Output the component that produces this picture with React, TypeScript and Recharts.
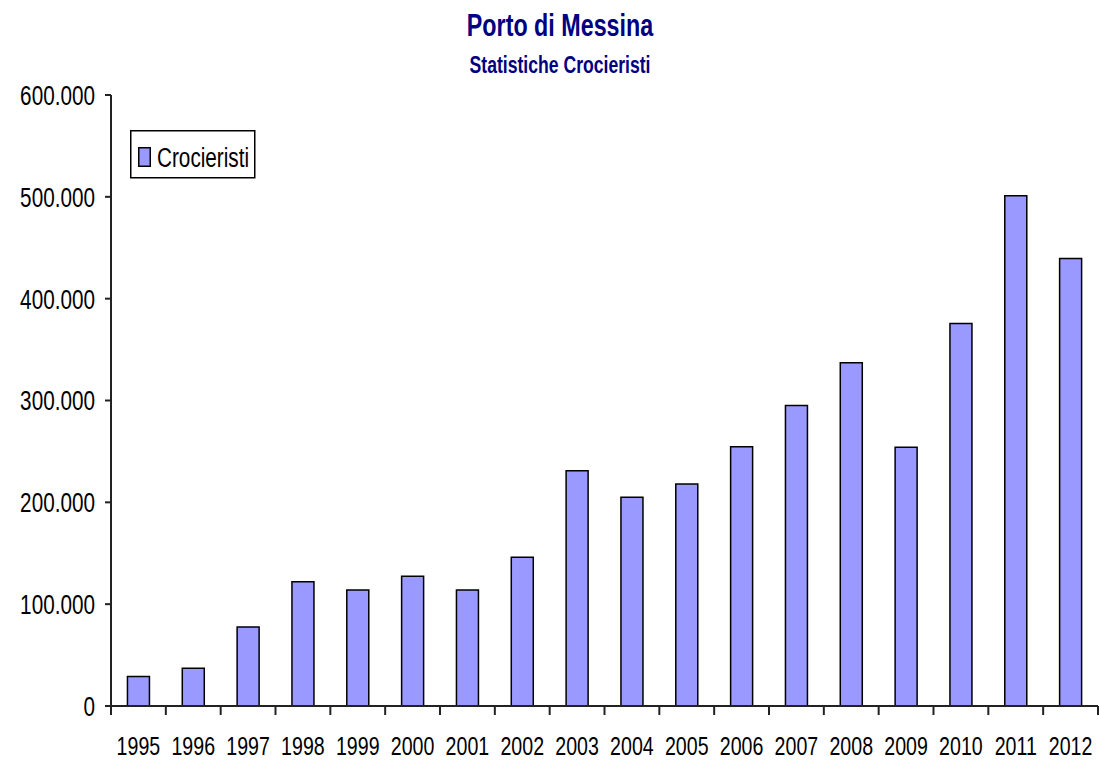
import { Bar, BarChart, Legend, XAxis, YAxis } from "recharts"

const years = [
  "1995", "1996", "1997", "1998", "1999", "2000", "2001", "2002", "2003",
  "2004", "2005", "2006", "2007", "2008", "2009", "2010", "2011", "2012",
]
const crocieristi = [
  29000, 37000, 77500, 122000, 114000, 127500, 114000, 146000, 231000,
  205000, 218000, 254500, 295000, 337000, 254000, 375500, 501000, 439500,
]
const yTicks = [0, 100000, 200000, 300000, 400000, 500000, 600000]

const data = years.map((name, i) => ({ name, crocieristi: crocieristi[i] }))

// the original text is Arial squeezed horizontally
const FONT = '"Liberation Sans", Arial, sans-serif'
const SQ = 0.74
const W = 1099
const H = 761
const LEFT = 111
const RIGHT = 1
const band = (W - LEFT - RIGHT) / years.length

const fmt = (v: number) => (v === 0 ? "0" : `${v / 1000}.000`)

function XTick(props: any) {
  const { x, y, payload, index } = props
  const half = band / 2
  return (
    <g>
      <line x1={x - half} x2={x - half} y1={y} y2={y + 9} stroke="#222" strokeWidth={2} />
      {index === years.length - 1 && (
        <line x1={x + half} x2={x + half} y1={y} y2={y + 9} stroke="#222" strokeWidth={2} />
      )}
      <text
        transform={`translate(${x},${y + 49}) scale(${SQ},1)`}
        textAnchor="middle"
        fontSize={26.5}
        fontFamily={FONT}
        fill="#000"
      >
        {payload.value}
      </text>
    </g>
  )
}

function YTick(props: any) {
  const { y, payload } = props
  return (
    <g>
      <line x1={LEFT - 6} x2={LEFT} y1={y} y2={y} stroke="#222" strokeWidth={2} />
      <text
        transform={`translate(${LEFT - 16},${y}) scale(${SQ},1)`}
        dy="0.355em"
        textAnchor="end"
        fontSize={28}
        fontFamily={FONT}
        fill="#000"
      >
        {fmt(payload.value)}
      </text>
    </g>
  )
}

function LegendBox() {
  return (
    <svg width={126} height={50} style={{ display: "block" }}>
      <rect x={0.75} y={0.75} width={124} height={47} fill="#fff" stroke="#000" strokeWidth={1.5} />
      <rect x={8.75} y={17.75} width={11.5} height={18.5} fill="#9999FF" stroke="#000" strokeWidth={1.5} />
      <text transform={`translate(27,36.5) scale(${SQ},1)`} fontSize={28} fontFamily={FONT} fill="#000">
        Crocieristi
      </text>
    </svg>
  )
}

export default function App() {
  return (
    <div style={{ position: "absolute", left: 0, top: 0, width: W, height: H, background: "#fff" }}>
      <BarChart
        width={W}
        height={H}
        data={data}
        margin={{ top: 95, right: RIGHT, bottom: 0, left: 0 }}
        barCategoryGap="30%"
      >
        <text
          transform={`translate(560,36) scale(${SQ},1)`}
          textAnchor="middle"
          fontFamily={FONT}
          fontWeight="bold"
          fontSize={31.5}
          fill="#000080"
        >
          Porto di Messina
        </text>
        <text
          transform={`translate(560,73) scale(${SQ},1)`}
          textAnchor="middle"
          fontFamily={FONT}
          fontWeight="bold"
          fontSize={23.8}
          fill="#000080"
        >
          Statistiche Crocieristi
        </text>
        <XAxis
          dataKey="name"
          height={55}
          tickLine={false}
          tickSize={0}
          tickMargin={0}
          axisLine={{ stroke: "#222", strokeWidth: 2 }}
          tick={<XTick />}
          interval={0}
        />
        <YAxis
          width={LEFT}
          domain={[0, 600000]}
          ticks={yTicks}
          tickLine={false}
          tickSize={0}
          tickMargin={0}
          axisLine={{ stroke: "#222", strokeWidth: 2 }}
          tick={<YTick />}
          interval={0}
        />
        <Legend
          layout="vertical"
          align="center"
          verticalAlign="middle"
          content={<LegendBox />}
          wrapperStyle={{ position: "absolute", left: 130, top: 130, width: 126, height: 50 }}
        />
        <Bar
          dataKey="crocieristi"
          name="Crocieristi"
          fill="#9999FF"
          stroke="#000"
          strokeWidth={1.5}
          isAnimationActive={false}
        />
      </BarChart>
    </div>
  )
}
